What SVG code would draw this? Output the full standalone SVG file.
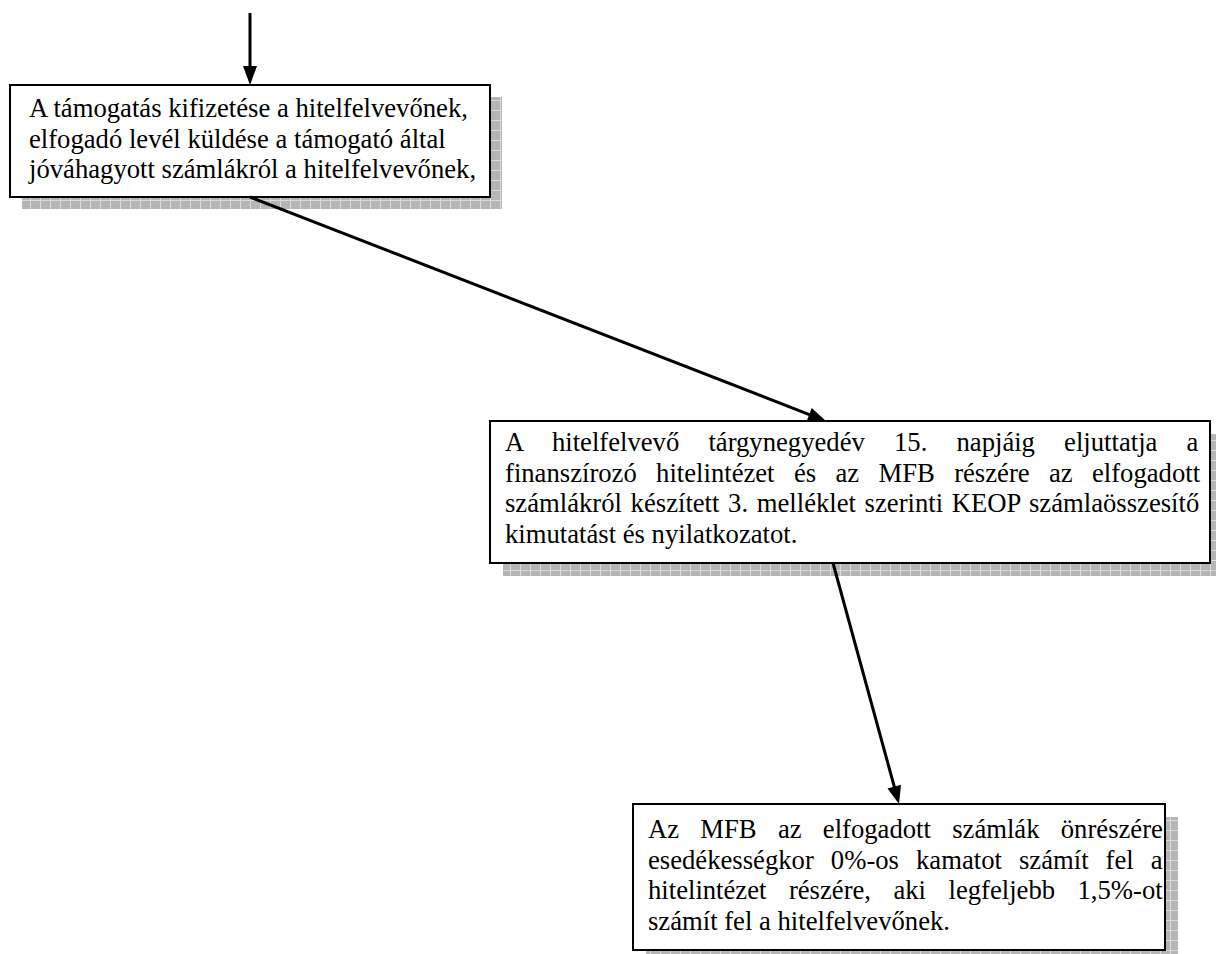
<svg xmlns="http://www.w3.org/2000/svg" width="1216" height="954" viewBox="0 0 1216 954">
  <defs>
    <pattern id="shadowGrid" patternUnits="userSpaceOnUse" width="10" height="10">
      <rect x="0" y="0" width="10" height="10" fill="#b5b5b5"/>
      <path d="M0 0.5 H10 M0.5 0 V10" stroke="#dadada" stroke-width="1" fill="none"/>
    </pattern>
    <style>
      .box { fill: #ffffff; stroke: #000000; stroke-width: 2; }
      .shadow { fill: url(#shadowGrid); stroke: none; }
      .txt { font-family: "Liberation Serif", "Times New Roman", serif; font-size: 26.67px; fill: #000000; }
      .conn { stroke: #000000; stroke-width: 3; fill: none; }
      .head { fill: #000000; stroke: none; }
    </style>
  </defs>
  <rect x="0" y="0" width="1216" height="954" fill="#ffffff"/>

  <g id="node-top">
    <rect class="shadow" x="22" y="97" width="480" height="112"/>
    <rect class="box" x="10" y="85" width="480" height="112"/>
    <text class="txt" x="29" y="117">A támogatás kifizetése a hitelfelvevőnek,</text>
    <text class="txt" x="29" y="147.7">elfogadó levél küldése a támogató által</text>
    <text class="txt" x="29" y="178.3">jóváhagyott számlákról a hitelfelvevőnek,</text>
  </g>

  <g id="node-middle">
    <rect class="shadow" x="503" y="434" width="720" height="142"/>
    <rect class="box" x="490" y="421" width="720" height="142"/>
    <text class="txt" x="505" y="451" word-spacing="22.5">A hitelfelvevő tárgynegyedév 15. napjáig eljuttatja a</text>
    <text class="txt" x="505" y="481.7" word-spacing="12.7">finanszírozó hitelintézet és az MFB részére az elfogadott</text>
    <text class="txt" x="505" y="512.3" word-spacing="2">számlákról készített 3. melléklet szerinti KEOP számlaösszesítő</text>
    <text class="txt" x="505" y="543">kimutatást és nyilatkozatot.</text>
  </g>

  <g id="node-bottom">
    <rect class="shadow" x="646" y="817" width="532" height="146"/>
    <rect class="box" x="633" y="804" width="532" height="146"/>
    <text class="txt" x="648" y="838" word-spacing="14.6">Az MFB az elfogadott számlák önrészére</text>
    <text class="txt" x="648" y="868.5" word-spacing="10.4">esedékességkor 0%-os kamatot számít fel a</text>
    <text class="txt" x="648" y="899" word-spacing="15.8">hitelintézet részére, aki legfeljebb 1,5%-ot</text>
    <text class="txt" x="648" y="929.5">számít fel a hitelfelvevőnek.</text>
  </g>

  <g id="connectors">
    <line class="conn" x1="250" y1="13" x2="250" y2="68"/>
    <polygon class="head" points="250,85 243,66 257,66"/>
    <line class="conn" x1="250" y1="197" x2="810" y2="414.8"/>
    <polygon class="head" points="826,421 811.7,408 806.7,421"/>
    <line class="conn" x1="833" y1="563" x2="894.5" y2="787.5"/>
    <polygon class="head" points="899,804 887.5,788.4 901,784.7"/>
  </g>
</svg>
